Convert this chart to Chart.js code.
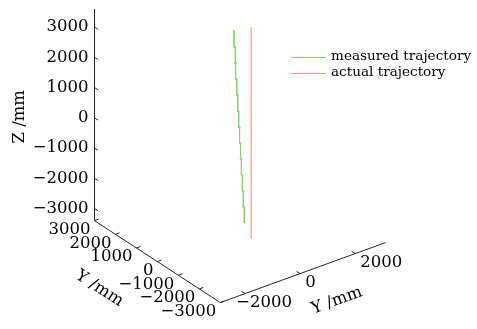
<!DOCTYPE html>
<html>
<head>
<meta charset="utf-8">
<script src="https://cdn.jsdelivr.net/npm/chart.js@4.4.0/dist/chart.umd.min.js"></script>
<style>
  html, body { margin: 0; padding: 0; background: #fff; }
  #wrap { width: 477px; height: 329px; }
</style>
</head>
<body>
<div id="wrap"><canvas id="chart"></canvas></div>
<script>
  // measured trajectory, staircase samples (mm)
  var measuredA = [150, 150, 105, 105, 62, 62, 20, 20, -25, -25, -70, -70,
                   -112, -112, -158, -158, -200, -200, -245, -245, -290, -290, -335, -335];
  var measuredB = [0, 0, 0, 0, 0, 0, 0, 0, 0, 0, 0, 0,
                   0, 0, 0, 0, 0, 0, 0, 0, 0, 0, 0, 0];
  var measuredZ = [3200, 2680, 2680, 2170, 2170, 1650, 1650, 1150, 1150, 630, 630, 130,
                   130, -380, -380, -890, -890, -1390, -1390, -1900, -1900, -2410, -2410, -2900];

  // actual trajectory (mm)
  var actualA = [-400, -400];
  var actualB = [200, 200];
  var actualZ = [3500, -3500];

  var zTicks = [3000, 2000, 1000, 0, -1000, -2000, -3000];
  var aTicks = [3000, 2000, 1000, 0, -1000, -2000, -3000];
  var bTicks = [-2000, 0, 2000];
  var aLim = [-3000, 3000];
  var bLim = [-2900, 3100];
  var zLim = [-3400, 3600];

  var seriesLabels = ['measured trajectory', 'actual trajectory'];
  var axisTitles = ['Z /mm', 'Y /mm', 'Y /mm'];

  var measuredColor = '#8dd070';
  var actualColor = '#f49a82';
  var FONT = '"DejaVu Serif", serif';

  // fixed 3d view: projected units per mm (y up)
  var view = { ax: -0.02133, ay: 0.014, bx: 0.028, by: 0.01025, zy: 0.031 };

  function project(a, b, z) {
    return {
      x: view.ax * a + view.bx * b,
      y: view.ay * a + view.by * b + view.zy * z
    };
  }

  function toPoints(as, bs, zs) {
    var pts = [];
    for (var i = 0; i < zs.length; i++) {
      pts.push(project(as[i], bs[i], zs[i]));
    }
    return pts;
  }

  function fmt(v) {
    return v < 0 ? '\u2212' + Math.abs(v) : String(v);
  }

  var axes3d = {
    id: 'axes3d',
    beforeDatasetsDraw: function(chart) {
      var ctx = chart.ctx;
      var sx = chart.scales.x;
      var sy = chart.scales.y;

      function px(a, b, z) {
        var p = project(a, b, z);
        return { x: sx.getPixelForValue(p.x), y: sy.getPixelForValue(p.y) };
      }

      function seg(p, q) {
        ctx.beginPath();
        ctx.moveTo(p.x, p.y);
        ctx.lineTo(q.x, q.y);
        ctx.stroke();
      }

      ctx.save();
      ctx.strokeStyle = '#262626';
      ctx.lineWidth = 1;

      // z axis (back left corner)
      var zx = Math.round(px(aLim[1], bLim[0], 0).x) + 0.5;
      var zTop = px(aLim[1], bLim[0], zLim[1]);
      var zBot = px(aLim[1], bLim[0], zLim[0]);
      seg({ x: zx, y: zTop.y }, { x: zx, y: zBot.y });
      // floor axes
      seg(px(aLim[1], bLim[0], zLim[0]), px(aLim[0], bLim[0], zLim[0]));
      seg(px(aLim[0], bLim[0], zLim[0]), px(aLim[0], bLim[1], zLim[0]));

      ctx.fillStyle = '#000';
      ctx.font = '16.5px ' + FONT;
      ctx.textBaseline = 'middle';

      var i, p, q;
      // z ticks
      ctx.textAlign = 'right';
      for (i = 0; i < zTicks.length; i++) {
        p = px(aLim[1], bLim[0], zTicks[i]);
        q = px(aLim[1] - 170, bLim[0], zTicks[i]);
        seg({ x: zx, y: p.y }, { x: q.x, y: q.y });
        ctx.fillText(fmt(zTicks[i]), zx - 6, p.y);
      }
      // first floor axis ticks
      for (i = 0; i < aTicks.length; i++) {
        p = px(aTicks[i], bLim[0], zLim[0]);
        q = px(aTicks[i], bLim[0] + 150, zLim[0]);
        seg(p, q);
        ctx.fillText(fmt(aTicks[i]), p.x - 4, p.y + 9);
      }
      // second floor axis ticks
      ctx.textAlign = 'left';
      var minusW = ctx.measureText('\u2212').width;
      for (i = 0; i < bTicks.length; i++) {
        p = px(aLim[0], bTicks[i], zLim[0]);
        q = px(aLim[0] + 170, bTicks[i], zLim[0]);
        seg(p, q);
        ctx.fillText(fmt(bTicks[i]), p.x + 5 - (bTicks[i] < 0 ? minusW : 0), p.y + 9);
      }

      // axis titles
      ctx.textAlign = 'center';
      var zm = px(aLim[1], bLim[0], (zLim[0] + zLim[1]) / 2);
      ctx.save();
      ctx.translate(zx - 75, zm.y + 2);
      ctx.rotate(-Math.PI / 2);
      ctx.fillText(axisTitles[0], 0, 0);
      ctx.restore();

      var a0 = px(aLim[1], bLim[0], zLim[0]);
      var a1 = px(aLim[0], bLim[0], zLim[0]);
      var am = px(0, bLim[0], zLim[0]);
      ctx.save();
      ctx.translate(am.x - 58, am.y + 27);
      ctx.rotate(Math.atan2(a1.y - a0.y, a1.x - a0.x));
      ctx.fillText(axisTitles[1], 0, 0);
      ctx.restore();

      var b0 = px(aLim[0], bLim[0], zLim[0]);
      var b1 = px(aLim[0], bLim[1], zLim[0]);
      var bm = px(aLim[0], (bLim[0] + bLim[1]) / 2, zLim[0]);
      ctx.save();
      ctx.translate(bm.x + 34, bm.y + 28);
      ctx.rotate(Math.atan2(b1.y - b0.y, b1.x - b0.x));
      ctx.fillText(axisTitles[2], 0, 0);
      ctx.restore();

      ctx.restore();
    },
    afterDraw: function(chart) {
      // legend, upper right
      var ctx = chart.ctx;
      var area = chart.chartArea;
      var colors = [measuredColor, actualColor];
      var x0 = area.right - 182;
      var y0 = area.top + 52.5;
      ctx.save();
      ctx.font = '13.6px ' + FONT;
      ctx.textAlign = 'left';
      ctx.textBaseline = 'middle';
      for (var i = 0; i < seriesLabels.length; i++) {
        var y = Math.round(y0 + i * 16.6) + 0.5;
        ctx.strokeStyle = colors[i];
        ctx.lineWidth = 1;
        ctx.beginPath();
        ctx.moveTo(x0, y);
        ctx.lineTo(x0 + 35, y);
        ctx.stroke();
        ctx.fillStyle = '#000';
        ctx.fillText(seriesLabels[i], x0 + 40, y - 1);
      }
      ctx.restore();
    }
  };

  new Chart(document.getElementById('chart'), {
    type: 'scatter',
    data: {
      datasets: [
        {
          label: seriesLabels[0],
          data: toPoints(measuredA, measuredB, measuredZ),
          showLine: true,
          borderColor: measuredColor,
          backgroundColor: measuredColor,
          borderWidth: 1,
          pointRadius: 1,
          pointBorderWidth: 0,
          clip: false
        },
        {
          label: seriesLabels[1],
          data: toPoints(actualA, actualB, actualZ),
          showLine: true,
          borderColor: actualColor,
          borderWidth: 1.2,
          pointRadius: 0,
          clip: false
        }
      ]
    },
    options: {
      responsive: true,
      maintainAspectRatio: false,
      animation: false,
      layout: { padding: 0 },
      plugins: {
        legend: { display: false },
        tooltip: { enabled: false }
      },
      scales: {
        x: { type: 'linear', display: false, min: -237.2, max: 239.8 },
        y: { type: 'linear', display: false, min: -200.1, max: 128.9 }
      }
    },
    plugins: [axes3d]
  });
</script>
</body>
</html>
